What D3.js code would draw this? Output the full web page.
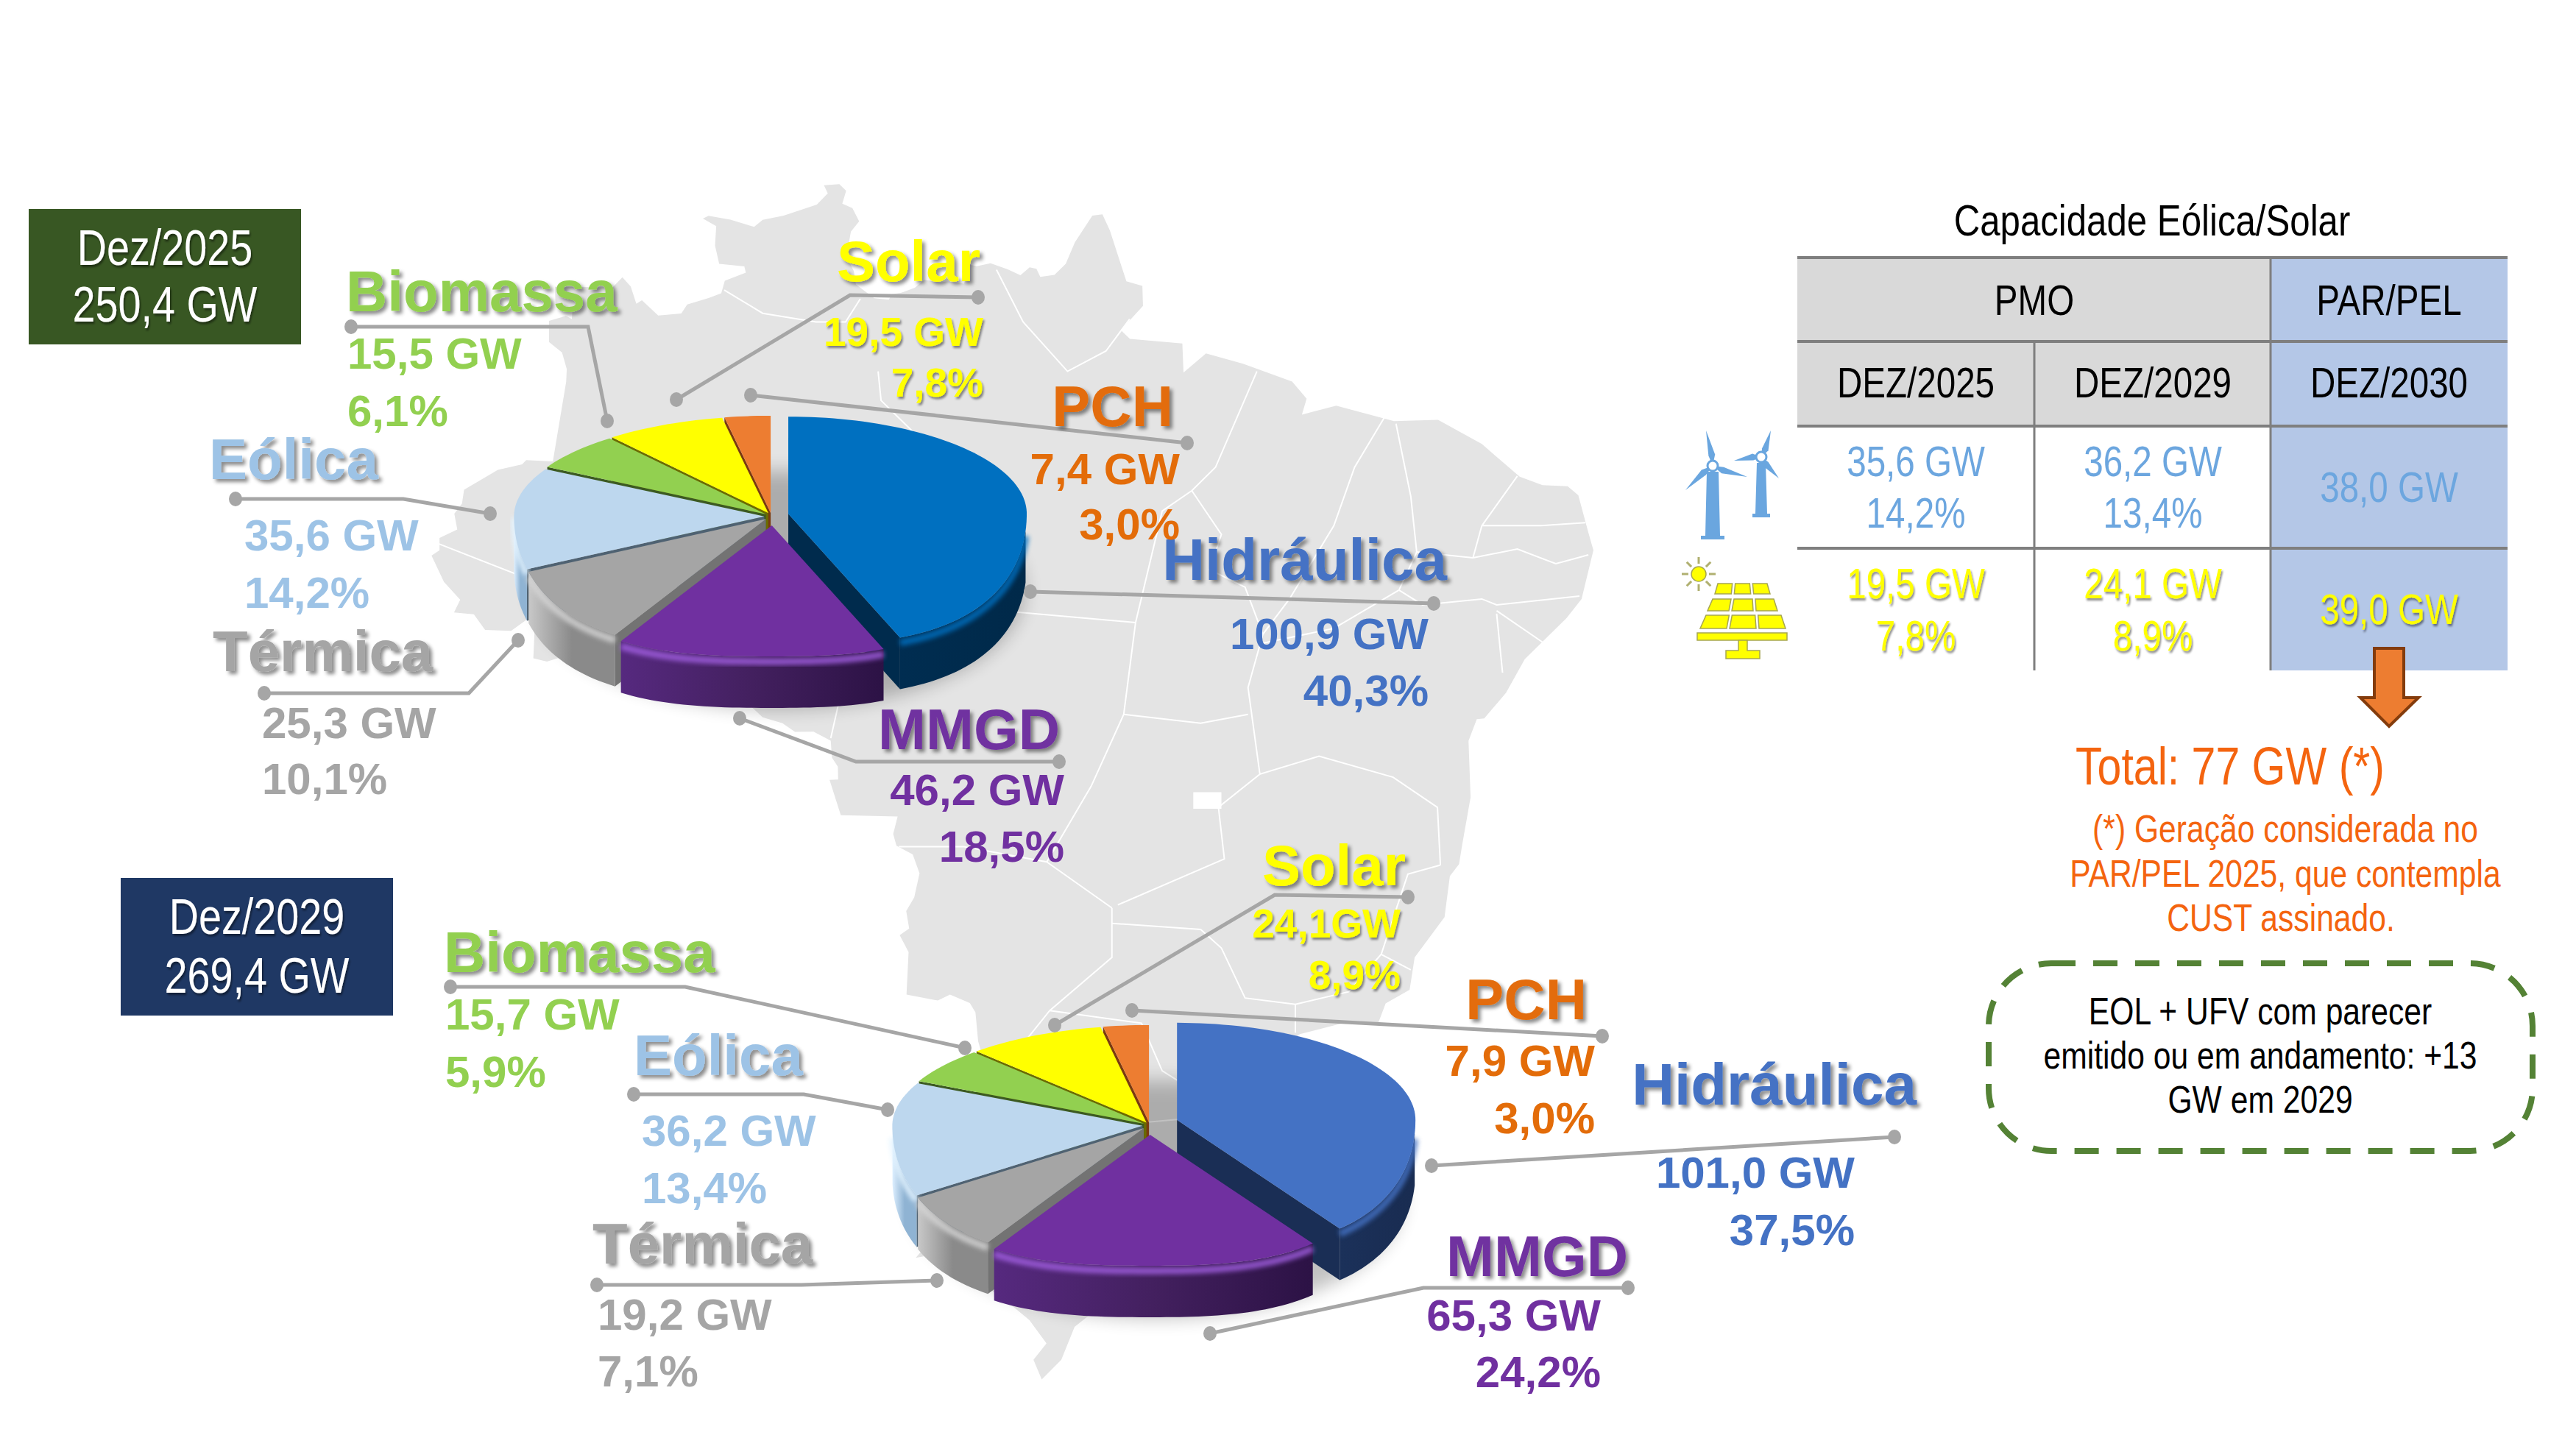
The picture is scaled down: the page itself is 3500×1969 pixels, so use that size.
<!DOCTYPE html>
<html>
<head>
<meta charset="utf-8">
<script src="https://cdn.jsdelivr.net/npm/d3@7"></script>
<style>
html, body { margin: 0; padding: 0; background: #fff; }
text { font-family: "Liberation Sans", Arial, sans-serif; }
</style>
</head>
<body>
<svg id="chart" width="3500" height="1969"></svg>
<script>
// chart values
var categories = ["Hidráulica", "MMGD", "Térmica", "Eólica", "Biomassa", "Solar", "PCH"];
var gw2025 = [100.9, 46.2, 25.3, 35.6, 15.5, 19.5, 7.4];
var pct2025 = [40.3, 18.5, 10.1, 14.2, 6.1, 7.8, 3.0];
var gw2029 = [101.0, 65.3, 19.2, 36.2, 15.7, 24.1, 7.9];
var pct2029 = [37.5, 24.2, 7.1, 13.4, 5.9, 8.9, 3.0];
var totals = [["Dez/2025", "250,4 GW"], ["Dez/2029", "269,4 GW"]];

// table
var tableGroups = ["PMO", "PAR/PEL"];
var tableDates = ["DEZ/2025", "DEZ/2029", "DEZ/2030"];
var windRow = [["35,6 GW", "14,2%"], ["36,2 GW", "13,4%"], ["38,0 GW"]];
var solarRow = [["19,5 GW", "7,8%"], ["24,1 GW", "8,9%"], ["39,0 GW"]];

var noteLines = ["(*) Geração considerada no", "PAR/PEL 2025, que contempla", "CUST assinado."];
var boxLines = ["EOL + UFV com parecer", "emitido ou em andamento: +13", "GW em 2029"];

// Brazil outline, lon/lat
var brazil = [[-57.63,-30.22],[-56.29,-28.85],[-55.16,-27.88],[-54.49,-27.47],[-53.65,-26.92],[-53.63,-26.12],[-54.13,-25.55],[-54.63,-25.74],[-54.43,-25.16],[-54.29,-24.57],[-54.29,-24.02],[-54.65,-23.84],[-55.03,-24.0],[-55.4,-23.96],[-55.52,-23.57],[-55.61,-22.66],[-55.8,-22.36],[-56.47,-22.09],[-56.88,-22.28],[-57.94,-22.09],[-57.87,-20.73],[-58.17,-20.18],[-57.85,-19.97],[-57.95,-19.4],[-57.68,-18.96],[-57.5,-18.17],[-57.73,-17.55],[-58.28,-17.27],[-58.39,-16.88],[-58.24,-16.3],[-60.16,-16.26],[-60.54,-15.09],[-60.25,-15.08],[-60.26,-14.65],[-60.46,-14.35],[-60.5,-13.78],[-61.08,-13.48],[-61.71,-13.49],[-62.13,-13.2],[-62.8,-13.0],[-63.2,-12.63],[-64.32,-12.46],[-65.4,-11.57],[-65.32,-10.9],[-65.44,-10.51],[-65.34,-9.76],[-66.65,-9.93],[-67.17,-10.31],[-68.05,-10.71],[-68.27,-11.01],[-68.79,-11.04],[-69.53,-10.95],[-70.09,-11.12],[-70.55,-11.01],[-70.48,-9.49],[-71.3,-10.08],[-72.18,-10.05],[-72.56,-9.52],[-73.23,-9.46],[-73.02,-9.03],[-73.57,-8.42],[-73.99,-7.52],[-73.72,-7.34],[-73.72,-6.92],[-73.12,-6.63],[-73.22,-6.09],[-72.96,-5.74],[-72.89,-5.27],[-71.75,-4.59],[-70.93,-4.4],[-70.79,-4.25],[-69.89,-4.3],[-69.44,-1.56],[-69.42,-1.12],[-69.58,-0.55],[-70.02,-0.19],[-70.02,0.54],[-69.45,0.71],[-69.25,0.6],[-69.22,0.99],[-69.8,1.09],[-69.82,1.71],[-67.87,1.69],[-67.54,2.04],[-67.26,1.72],[-67.07,1.13],[-66.88,1.25],[-66.33,0.72],[-65.55,0.79],[-65.35,1.1],[-64.61,1.33],[-64.2,1.49],[-64.08,1.92],[-63.37,2.2],[-63.42,2.41],[-64.27,2.5],[-64.41,3.13],[-64.37,3.8],[-64.82,4.06],[-64.63,4.15],[-63.89,4.02],[-63.09,3.77],[-62.8,4.01],[-62.09,4.16],[-60.97,4.54],[-60.6,4.92],[-60.73,5.2],[-60.21,5.24],[-59.98,5.01],[-60.11,4.57],[-59.77,4.42],[-59.54,3.96],[-59.82,3.61],[-59.97,2.76],[-59.72,2.25],[-59.65,1.79],[-59.03,1.32],[-58.54,1.27],[-58.43,1.46],[-58.11,1.51],[-57.66,1.68],[-57.34,1.95],[-56.78,1.86],[-56.54,1.9],[-56.0,1.82],[-55.91,2.02],[-56.07,2.22],[-55.97,2.51],[-55.57,2.42],[-55.1,2.52],[-54.52,2.31],[-54.09,2.11],[-53.78,2.38],[-53.55,2.33],[-53.42,2.05],[-52.94,2.12],[-52.56,2.5],[-52.25,3.24],[-51.66,4.16],[-51.32,4.2],[-51.07,3.65],[-50.51,1.9],[-49.97,1.74],[-49.95,1.05],[-50.7,0.22],[-50.39,-0.08],[-48.62,-0.24],[-48.58,-1.24],[-47.82,-0.58],[-46.57,-0.94],[-44.91,-1.55],[-44.42,-2.14],[-44.58,-2.69],[-43.42,-2.38],[-41.47,-2.91],[-39.98,-2.87],[-38.5,-3.7],[-37.22,-4.82],[-36.45,-5.11],[-35.6,-5.15],[-35.24,-5.46],[-34.9,-6.74],[-34.73,-7.34],[-35.13,-9.0],[-35.64,-9.65],[-37.05,-11.04],[-37.68,-12.17],[-38.42,-13.04],[-38.67,-13.06],[-38.95,-13.79],[-38.88,-15.67],[-39.16,-17.21],[-39.27,-17.87],[-39.58,-18.26],[-39.76,-19.6],[-40.77,-20.9],[-40.94,-21.94],[-41.75,-22.37],[-41.99,-22.97],[-43.07,-22.97],[-44.65,-23.35],[-45.35,-23.8],[-46.47,-24.09],[-47.65,-24.89],[-48.5,-25.88],[-48.64,-26.62],[-48.47,-27.18],[-48.66,-28.19],[-48.89,-28.67],[-49.59,-29.22],[-50.7,-30.98],[-51.58,-31.78],[-52.26,-32.25],[-52.71,-33.2],[-53.37,-33.77],[-53.65,-33.2],[-53.21,-32.73],[-53.79,-32.05],[-54.57,-31.49],[-55.6,-30.85],[-55.97,-30.88],[-56.98,-30.11],[-57.63,-30.22]];

// rough state borders, lon/lat
var stateLines = [
  [[-73.8,-7.1],[-70,-8.6],[-66.8,-9.8]],
  [[-66.8,-9.8],[-65.4,-9.7],[-63.5,-8],[-62.5,-8],[-61.5,-8.8],[-60.5,-8],[-58.4,-7.4]],
  [[-58.4,-7.4],[-57.6,-6.5],[-56.8,-4.2],[-58.8,-2.2],[-58.9,-1.2]],
  [[-64.1,1.6],[-62.8,0.8],[-61,0.5],[-60,0.5],[-59.5,1.3]],
  [[-54.9,2.3],[-54,0.5],[-52.5,-1.2],[-51.2,-0.5],[-50.4,0.6]],
  [[-58.4,-7.4],[-57,-9.2],[-50.2,-9.8]],
  [[-50.2,-9.8],[-49.3,-6],[-48.3,-5.3]],
  [[-48.3,-5.3],[-47.5,-4.5],[-46.1,-1.2]],
  [[-48.3,-5.3],[-47.3,-6.8],[-47.7,-8],[-46.5,-8.6],[-45.9,-10.2]],
  [[-45.9,-10.2],[-45,-9],[-43.5,-6.5],[-42.8,-4.5],[-41.8,-2.8]],
  [[-41.4,-3],[-40.9,-5.5],[-40.7,-7.4]],
  [[-37.3,-4.8],[-38.5,-6.5],[-38.8,-7.6]],
  [[-38.5,-6.5],[-36.5,-6.5],[-35,-6.4]],
  [[-38.8,-7.6],[-37.3,-7.3],[-36,-7.8],[-34.9,-7.5]],
  [[-38.8,-7.6],[-40.7,-7.4],[-41.3,-8.7]],
  [[-41.3,-8.7],[-40.5,-9.2],[-38.5,-9],[-38,-9.2],[-35.2,-8.9]],
  [[-38,-9.4],[-36.4,-10.5]],
  [[-38,-9.5],[-37.8,-11.5]],
  [[-45.9,-10.5],[-43.5,-10],[-41.3,-8.7]],
  [[-45.9,-10.2],[-46.4,-12],[-46,-14.9],[-44,-14.3],[-41.5,-15],[-40,-16],[-39.9,-17.9]],
  [[-50.6,-12.9],[-48,-13.2],[-46.4,-12.9]],
  [[-50.2,-9.8],[-50.6,-12.9],[-51.7,-15.3],[-53.2,-17.8],[-51,-19.3]],
  [[-60.5,-13.7],[-60,-11.5],[-61.5,-9.8],[-60.5,-8]],
  [[-58.2,-17.3],[-56,-17.3],[-53.2,-17.8]],
  [[-46,-14.9],[-47.4,-16],[-47.2,-17.7],[-50.8,-19.2]],
  [[-51,-19.3],[-51,-20.9],[-53.1,-22.6],[-54.3,-24]],
  [[-51,-19.8],[-48,-20],[-47.3,-20.6],[-46.5,-22.2],[-44.8,-22.4]],
  [[-44.8,-22.4],[-43,-22],[-41.9,-20.8],[-41,-18.2],[-39.9,-17.9]],
  [[-44.8,-22.4],[-44.8,-23.3]],
  [[-53.1,-22.6],[-50,-23],[-49.3,-24.5],[-48.1,-25.2]],
  [[-53.7,-26.2],[-51,-26.2],[-48.6,-26]],
  [[-53.8,-27.1],[-51.5,-27.7],[-50,-29.3]],
  [[-41.9,-20.8],[-40.9,-21.3]]
];
var federalDistrict = [[-48.25,-15.5],[-47.3,-15.5],[-47.3,-16.05],[-48.25,-16.05],[-48.25,-15.5]];

// per category colours
var topColors2025 = ["#0070C0", "#7030A0", "#A5A5A5", "#BDD7EE", "#92D050", "#FFFF00", "#ED7D31"];
var topColors2029 = ["#4472C4", "#7030A0", "#A5A5A5", "#BDD7EE", "#92D050", "#FFFF00", "#ED7D31"];
var labelColors = ["#4472C4", "#7030A0", "#A5A5A5", "#9DC3E6", "#92D050", "#FFFF00", "#E36C09"];
var wallColors2025 = ["#002B4D", "#351650", "#737373", "#4F6272", "#3C5A22", "#6B6B00", "#7A3A10"];
var wallColors2029 = ["#1A2E55", "#351650", "#737373", "#4F6272", "#3C5A22", "#6B6B00", "#7A3A10"];
var rimColors = ["", "#A15FE0", "#D4D4D4", "#E4F4FF", "#92D050", "#FFFF00", "#ED7D31"];
var explode2025 = [0.075, 0.07, 0.03, 0.03, 0.03, 0.03, 0.03];
var explode2029 = [0.125, 0.07, 0.03, 0.03, 0.03, 0.03, 0.03];

var svg = d3.select("#chart");
var defs = svg.append("defs");

function addShadow(id, dx, dy, blur, op) {
  var f = defs.append("filter").attr("id", id).attr("x", "-20%").attr("y", "-30%").attr("width", "140%").attr("height", "160%");
  f.append("feDropShadow").attr("dx", dx).attr("dy", dy).attr("stdDeviation", blur)
    .attr("flood-color", "#000").attr("flood-opacity", op);
}
addShadow("nameShadow", 4, 4, 2.5, 0.45);
addShadow("softShadow", 2, 3, 1.5, 0.45);
defs.append("filter").attr("id", "blur12").attr("x", "-30%").attr("y", "-30%").attr("width", "160%").attr("height", "160%")
  .append("feGaussianBlur").attr("stdDeviation", 12);
defs.append("filter").attr("id", "blur3").attr("x", "-30%").attr("y", "-30%").attr("width", "160%").attr("height", "160%")
  .append("feGaussianBlur").attr("stdDeviation", 3);

// map
var projection = d3.geoMercator().scale(1).translate([0, 0]);
var mapX = d3.scaleLinear().domain([-1.2915, -0.607]).range([586, 2163]);
var mapY = d3.scaleLinear().domain([-0.0921, 0.627]).range([249, 1875]);
var geoLine = d3.line()
  .x(function (d) { return mapX(projection(d)[0]); })
  .y(function (d) { return mapY(projection(d)[1]); });

var mapG = svg.append("g");
mapG.append("path").attr("d", geoLine(brazil)).attr("fill", "#E4E4E4");
mapG.selectAll("path.state").data(stateLines).enter().append("path").attr("class", "state")
  .attr("d", geoLine).attr("fill", "none").attr("stroke", "#fff").attr("stroke-width", 2);
mapG.append("path").attr("d", geoLine(federalDistrict)).attr("fill", "#fff");

// 3D pie, drawn from d3.pie angles
function drawPie(id, values, cx, cy, topColors, wallColors, explode, skewA, skewB) {
  var rxLeft = 340, rxRight = 324, ryBack = 132, ryFront = 178, depth = 70, flat = 1.35;
  var g = svg.append("g");
  var line = d3.line();
  var toRad = Math.PI / 180;

  // the view turns the front of the pie a little, as the slide's 3D rotation does
  function warp(t) {
    if (t >= 300 * toRad) return t;
    return t + (skewA * Math.sin(t * 0.6) + skewB * Math.sin(t * 1.2)) * toRad;
  }
  function proj(a, b, z) {
    var x = a < 0 ? rxLeft * a : rxRight * a;
    var y = b >= 0 ? -ryBack * b : ryFront * (1 - Math.pow(1 + b, flat));
    return [cx + x, cy + y + z];
  }

  var arcs = d3.pie().sort(null)(values).map(function (d, i) {
    d.mid = (d.startAngle + d.endAngle) / 2;
    d.dx = explode[i] * 322 * Math.sin(d.mid);
    d.dy = -explode[i] * 170 * Math.cos(d.mid);
    d.i = i;
    return d;
  });

  function point(d, t, z) {
    var w = warp(t);
    var p = proj(Math.sin(w), Math.cos(w), z);
    return [p[0] + d.dx, p[1] + d.dy];
  }
  function rim(d, t0, t1, z) {
    var n = Math.max(2, Math.ceil((t1 - t0) / 0.03));
    return d3.range(n + 1).map(function (j) {
      return point(d, t0 + (t1 - t0) * j / n, z);
    });
  }

  // soft shadow under the pie, kept low so the gap at the back stays white
  g.append("ellipse").attr("cx", cx + 10).attr("cy", cy + 100).attr("rx", rxRight + 10).attr("ry", 162)
    .attr("fill", "#000").attr("opacity", 0.24).attr("filter", "url(#blur12)");

  var order = arcs.slice().sort(function (p, q) { return d3.descending(Math.cos(p.mid), Math.cos(q.mid)); });

  order.forEach(function (d) {
    var sg = g.append("g");
    var apexTop = [cx + d.dx, cy + d.dy], apexBot = [cx + d.dx, cy + d.dy + depth];

    // radial wall facing the viewer
    var wallAngle = d.startAngle > Math.PI ? d.startAngle : (d.endAngle < Math.PI ? d.endAngle : null);
    if (wallAngle !== null) {
      sg.append("path").attr("d", line([apexTop, point(d, wallAngle, 0), point(d, wallAngle, depth), apexBot]) + "Z")
        .attr("fill", wallColors[d.i]);
    }

    // outer wall, front part of the rim only
    var t0 = Math.max(d.startAngle, Math.PI / 2), t1 = Math.min(d.endAngle, Math.PI * 1.5);
    if (t1 > t0) {
      var top = rim(d, t0, t1, 0), bot = rim(d, t0, t1, depth).reverse();
      var gid = id + "wall" + d.i;
      var base = d3.color(wallColors[d.i]);
      var stops = d.i == 2
        ? ["#C8C8C8", "#8A8A8A", "#8A8A8A"]
        : d.i == 3
          ? ["#DDEFFF", "#8FB3D3", "#8FB3D3"]
          : d.i == 1
            ? ["#56297F", "#43205F", "#2C1245"]
            : [base.brighter(0.15), base, base.darker(0.15)];
      var grad = defs.append("linearGradient").attr("id", gid);
      grad.selectAll("stop").data(stops).enter().append("stop")
        .attr("offset", function (c, j) { return j / 2; }).attr("stop-color", function (c) { return c; });
      sg.append("path").attr("d", line(top.concat(bot)) + "Z").attr("fill", "url(#" + gid + ")");
      // bevel on the rim
      sg.append("path").attr("d", line(rim(d, t0, t1, 7))).attr("fill", "none")
        .attr("stroke", rimColors[d.i] || topColors[d.i]).attr("stroke-width", 9)
        .attr("filter", "url(#blur3)").attr("opacity", 0.85);
    }

    // top face
    var face = [apexTop].concat(rim(d, d.startAngle, d.endAngle, 0));
    sg.append("path").attr("d", line(face) + "Z").attr("fill", topColors[d.i]);
  });
}

drawPie("p25", gw2025, 1048, 702, topColors2025, wallColors2025, explode2025, 7, 0);
drawPie("p29", gw2029, 1562, 1530, topColors2029, wallColors2029, explode2029, 0.7, 4.2);

// leader lines, one per category
var leaders2025 = [
  [[1400,804],[1948,820]],
  [[1439,1035],[1163,1035],[1005,976]],
  [[359,942],[637,942],[704,870]],
  [[320,678],[548,678],[666,698]],
  [[477,444],[799,444],[825,572]],
  [[1329,404],[1155,401],[919,543]],
  [[1613,602],[1020,537]]
];
var leaders2029 = [
  [[1945,1584],[2574,1545]],
  [[2212,1750],[1934,1750],[1644,1812]],
  [[811,1746],[1089,1746],[1273,1740]],
  [[861,1487],[1092,1487],[1206,1508]],
  [[612,1341],[931,1341],[1311,1424]],
  [[1913,1219],[1732,1216],[1433,1393]],
  [[2177,1408],[1538,1373]]
];

// label layout: anchor, name x, value x, baselines of name, value and percent
var layout2025 = [
  { a: "end", nx: 1966, vx: 1941, y: [788, 882, 959], nameSize: 80 },
  { a: "end", nx: 1440, vx: 1446, y: [1018, 1094, 1171] },
  { a: "start", nx: 289, vx: 356, y: [912, 1003, 1079] },
  { a: "start", nx: 284, vx: 332, y: [651, 748, 826] },
  { a: "start", nx: 470, vx: 472, y: [423, 501, 579] },
  { a: "end", nx: 1332, vx: 1336, y: [382, 470, 539], small: true },
  { a: "end", nx: 1594, vx: 1603, y: [579, 658, 733] }
];
var layout2029 = [
  { a: "end", nx: 2604, vx: 2520, y: [1501, 1614, 1692], nameSize: 80 },
  { a: "end", nx: 2212, vx: 2175, y: [1734, 1808, 1885] },
  { a: "start", nx: 805, vx: 812, y: [1717, 1807, 1884] },
  { a: "start", nx: 861, vx: 872, y: [1461, 1557, 1635] },
  { a: "start", nx: 603, vx: 605, y: [1321, 1399, 1477] },
  { a: "end", nx: 1910, vx: 1903, y: [1203, 1274, 1344], small: true, tight: true },
  { a: "end", nx: 2156, vx: 2167, y: [1385, 1462, 1540] }
];

var commaFmt = d3.formatLocale({ decimal: ",", thousands: ".", grouping: [3], currency: ["", ""] }).format(".1f");

function drawLabels(gw, pct, layout, leaders) {
  var g = svg.append("g");
  var poly = d3.line();
  leaders.forEach(function (pts) {
    g.append("path").attr("d", poly(pts)).attr("fill", "none").attr("stroke", "#A6A6A6").attr("stroke-width", 5);
    [pts[0], pts[pts.length - 1]].forEach(function (p) {
      g.append("ellipse").attr("cx", p[0]).attr("cy", p[1]).attr("rx", 9).attr("ry", 10).attr("fill", "#A6A6A6");
    });
  });
  categories.forEach(function (name, i) {
    var l = layout[i], col = labelColors[i];
    g.append("text").attr("x", l.nx).attr("y", l.y[0]).attr("text-anchor", l.a)
      .attr("font-size", l.nameSize || 78).attr("font-weight", 700).attr("fill", col)
      .attr("filter", "url(#nameShadow)").text(name);
    var size = l.small ? 55 : 60;
    var sh = l.small ? "url(#softShadow)" : null;
    g.append("text").attr("x", l.vx).attr("y", l.y[1]).attr("text-anchor", l.a)
      .attr("font-size", size).attr("font-weight", 700).attr("fill", col).attr("filter", sh)
      .text(commaFmt(gw[i]) + (l.tight ? "GW" : " GW"));
    g.append("text").attr("x", l.vx).attr("y", l.y[2]).attr("text-anchor", l.a)
      .attr("font-size", size).attr("font-weight", 700).attr("fill", col).attr("filter", sh)
      .text(commaFmt(pct[i]) + "%");
  });
}
drawLabels(gw2025, pct2025, layout2025, leaders2025);
drawLabels(gw2029, pct2029, layout2029, leaders2029);

// condensed text: no narrow face is installed, so squeeze the regular one
function narrowText(parent, x, y, str, size, col, shadow) {
  var t = parent.append("g").attr("transform", "translate(" + x + "," + y + ") scale(0.82,1)")
    .append("text").attr("text-anchor", "middle").attr("font-size", size).attr("fill", col).text(str);
  if (shadow) t.attr("filter", "url(#softShadow)");
  return t;
}

// period boxes
var boxes = [
  { x: 39, y: 284, w: 370, h: 184, fill: "#385723", cx: 224, ys: [360, 437] },
  { x: 164, y: 1193, w: 370, h: 187, fill: "#1F3864", cx: 349, ys: [1269, 1349] }
];
boxes.forEach(function (b, i) {
  svg.append("rect").attr("x", b.x).attr("y", b.y).attr("width", b.w).attr("height", b.h).attr("fill", b.fill);
  totals[i].forEach(function (t, j) {
    narrowText(svg, b.cx, b.ys[j], t, 68, "#fff", true);
  });
});

// table
var tx = [2442, 2764, 3085, 3407], ty = [350, 464, 579, 745, 911];
var colC = [2603, 2925, 3246];
var tbl = svg.append("g");
tbl.append("rect").attr("x", tx[0]).attr("y", ty[0]).attr("width", tx[2] - tx[0]).attr("height", ty[2] - ty[0]).attr("fill", "#D9D9D9");
tbl.append("rect").attr("x", tx[2]).attr("y", ty[0]).attr("width", tx[3] - tx[2]).attr("height", ty[4] - ty[0]).attr("fill", "#B4C7E7");
ty.slice(0, 4).forEach(function (y) {
  tbl.append("line").attr("x1", tx[0]).attr("x2", tx[3]).attr("y1", y).attr("y2", y).attr("stroke", "#7F7F7F").attr("stroke-width", 4);
});
tbl.append("line").attr("x1", tx[1]).attr("x2", tx[1]).attr("y1", ty[1]).attr("y2", ty[4]).attr("stroke", "#7F7F7F").attr("stroke-width", 3);
tbl.append("line").attr("x1", tx[2]).attr("x2", tx[2]).attr("y1", ty[0]).attr("y2", ty[4]).attr("stroke", "#7F7F7F").attr("stroke-width", 3);

narrowText(tbl, 2924, 320, "Capacidade Eólica/Solar", 60, "#000");
narrowText(tbl, tx[1], 428, tableGroups[0], 58, "#000");
narrowText(tbl, colC[2], 428, tableGroups[1], 58, "#000");
tableDates.forEach(function (t, i) { narrowText(tbl, colC[i], 540, t, 58, "#000"); });
var windCol = "#6CA6DF", solarCol = "#FFFF00";
windRow.forEach(function (c, i) {
  if (c.length == 2) { narrowText(tbl, colC[i], 647, c[0], 58, windCol); narrowText(tbl, colC[i], 717, c[1], 58, windCol); }
  else narrowText(tbl, colC[i], 682, c[0], 58, windCol);
});
solarRow.forEach(function (c, i) {
  if (c.length == 2) { narrowText(tbl, colC[i], 813, c[0], 58, solarCol, true); narrowText(tbl, colC[i], 884, c[1], 58, solarCol, true); }
  else narrowText(tbl, colC[i], 848, c[0], 58, solarCol, true);
});

// orange arrow
svg.append("path").attr("d", "M3226,881H3266V948H3286L3246,987L3207,948H3226Z")
  .attr("fill", "#ED7D31").attr("stroke", "#843C0C").attr("stroke-width", 4);

// wind turbines
var turb = svg.append("g").attr("fill", "#6AA6DF");
function turbine(hx, hy, tips, bottom, bw, tw) {
  turb.append("path").attr("d", "M" + (hx - tw) + "," + (hy + 8) + "L" + (hx + tw) + "," + (hy + 8) + "L" + (hx + tw + 2) + "," + (bottom - 5) + "L" + (hx + bw) + "," + (bottom - 5) + "V" + bottom + "H" + (hx - bw) + "V" + (bottom - 5) + "H" + (hx - tw - 2) + "Z");
  tips.forEach(function (t) {
    var dx = t[0] - hx, dy = t[1] - hy, len = Math.sqrt(dx * dx + dy * dy), nx = -dy / len, ny = dx / len;
    var mx = hx + dx * 0.3, my = hy + dy * 0.3;
    turb.append("path").attr("d", "M" + hx + "," + hy + "L" + (mx + nx * 6) + "," + (my + ny * 6) + "L" + t[0] + "," + t[1] + "L" + (mx - nx * 3) + "," + (my - ny * 3) + "Z");
  });
  turb.append("circle").attr("cx", hx).attr("cy", hy).attr("r", 7).attr("fill", "#fff").attr("stroke", "#6AA6DF").attr("stroke-width", 3);
}
turbine(2327, 633, [[2318, 585], [2290, 666], [2374, 648]], 733, 16, 8);
turbine(2393, 621, [[2406, 585], [2356, 626], [2417, 650]], 703, 12, 6);

// solar panel
var sol = svg.append("g").attr("fill", "#FFFF00").attr("stroke", "#A6A650").attr("stroke-width", 1.5);
function panelRow(y0, y1, x0, x1, x2, x3) {
  d3.range(3).forEach(function (i) {
    var a = x0 + (x1 - x0) * i / 3, b = x0 + (x1 - x0) * (i + 1) / 3, c = x2 + (x3 - x2) * i / 3, d = x2 + (x3 - x2) * (i + 1) / 3;
    sol.append("path").attr("d", "M" + (a + 2) + "," + y0 + "L" + (b - 2) + "," + y0 + "L" + (d - 2) + "," + y1 + "L" + (c + 2) + "," + y1 + "Z");
  });
}
panelRow(793, 807, 2332, 2403, 2328, 2407);
panelRow(814, 830, 2325, 2412, 2318, 2417);
panelRow(836, 854, 2316, 2422, 2308, 2428);
sol.append("rect").attr("x", 2306).attr("y", 860).attr("width", 122).attr("height", 10);
sol.append("path").attr("d", "M2362,870H2374V884H2391V895H2345V884H2362Z");
sol.append("circle").attr("cx", 2308).attr("cy", 780).attr("r", 10);
d3.range(8).forEach(function (i) {
  var t = i * Math.PI / 4;
  sol.append("line").attr("x1", 2308 + 14 * Math.cos(t)).attr("y1", 780 + 14 * Math.sin(t))
    .attr("x2", 2308 + 23 * Math.cos(t)).attr("y2", 780 + 23 * Math.sin(t))
    .attr("stroke", "#B0B070").attr("stroke-width", 3);
});

// notes on the right
narrowText(svg, 3030, 1066, "Total: 77 GW (*)", 72, "#F4640F");
noteLines.forEach(function (t, i) {
  narrowText(svg, [3105, 3105, 3099][i], [1144, 1205, 1265][i], t, 52, "#F4640F");
});
svg.append("rect").attr("x", 2702).attr("y", 1309).attr("width", 739).attr("height", 255).attr("rx", 85).attr("ry", 85)
  .attr("fill", "none").attr("stroke", "#548235").attr("stroke-width", 8).attr("stroke-dasharray", "33 24");
boxLines.forEach(function (t, i) {
  narrowText(svg, 3071, [1392, 1452, 1512][i], t, 52, "#000");
});
</script>
</body>
</html>
